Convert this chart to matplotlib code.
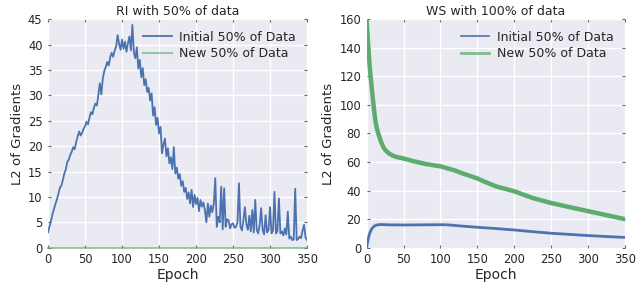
import matplotlib
matplotlib.use("Agg")
import matplotlib.pyplot as plt

# ---- RI panel: L2 of gradients, every 2nd epoch ----
ri_epochs = list(range(0, 351, 2))
ri_initial = [
    3.0, 4.2, 5.3, 6.6, 7.6, 8.6, 9.5, 10.6, 11.8, 12.2,
    13.3, 14.6, 15.4, 16.9, 17.3, 18.3, 18.9, 19.8, 19.4, 20.8,
    21.9, 22.9, 22.1, 22.6, 23.4, 23.9, 24.8, 24.3, 25.6, 26.7,
    26.3, 27.6, 28.4, 28.0, 30.1, 32.4, 30.2, 33.3, 34.8, 35.6,
    36.6, 35.9, 37.5, 38.4, 37.6, 38.8, 39.6, 41.9, 40.2, 39.0,
    41.0, 39.2, 40.6, 38.6, 40.3, 41.6, 38.9, 43.9, 38.5, 37.3,
    39.5, 35.3, 37.0, 33.6, 35.4, 32.0, 33.2, 30.7, 31.5, 29.0,
    30.4, 26.0, 27.7, 24.2, 25.6, 22.5, 23.8, 18.6, 20.4, 21.5,
    18.0, 19.6, 16.6, 17.8, 15.5, 19.8, 14.6, 15.8, 13.6, 14.5,
    12.2, 13.1, 11.0, 11.8, 9.6, 10.9, 8.7, 11.4, 8.0, 10.4,
    8.6, 9.8, 7.2, 9.4, 8.1, 8.9, 7.4, 5.0, 8.7, 6.1,
    8.3, 7.0, 8.7, 13.7, 4.1, 6.1, 5.0, 12.0, 3.6, 11.7,
    4.1, 5.6, 5.4, 3.8, 4.6, 4.8, 3.9, 4.1, 5.0, 12.7,
    4.1, 3.4, 5.4, 8.0, 4.6, 3.5, 6.3, 3.2, 7.4, 3.0,
    9.4, 3.5, 2.8, 4.5, 7.8, 3.5, 2.6, 6.4, 3.0, 3.5,
    8.0, 2.8, 3.4, 11.0, 2.8, 3.3, 9.7, 2.8, 3.2, 2.4,
    3.8, 2.6, 7.1, 1.8, 2.2, 1.5, 1.6, 11.6, 1.5, 1.7,
    2.2, 1.9, 3.4, 4.5, 2.0, 1.5,
]
ri_new = [0.0] * len(ri_epochs)

# ---- WS panel ----
ws_init_epochs = [0, 1, 2, 3, 4, 6, 8, 10, 13, 16,
                  20, 30, 50, 75, 100, 110, 125, 150, 175, 200,
                  225, 250, 275, 300, 325, 350]
ws_initial = [0.3, 3.5, 6.0, 8.2, 10.0, 12.5, 14.0, 15.0, 15.8, 16.1,
              16.2, 16.0, 15.9, 16.0, 16.1, 16.0, 15.3, 14.3, 13.4, 12.4,
              11.2, 10.1, 9.3, 8.5, 7.8, 7.2]

ws_new_epochs = [0, 1, 2, 3, 4, 6, 8, 10, 12, 14,
                 16, 18, 20, 22, 25, 30, 35, 40, 50, 60,
                 70, 80, 90, 100, 110, 120, 130, 140, 150, 160,
                 175, 200, 225, 250, 275, 300, 325, 350]
ws_new = [158, 150, 142, 134, 127, 116, 106, 96, 88, 83,
          79.5, 76.3, 73.5, 71, 68.5, 66, 64.6, 63.6, 62.5, 61,
          59.8, 58.6, 57.8, 57.0, 55.5, 54, 52, 50.3, 48.5, 46.2,
          43, 39.5, 34.8, 31.3, 28.4, 25.6, 22.8, 20]

blue = "#4C72B0"
green = "#55A868"

plt.rcParams["font.family"] = "DejaVu Sans"
plt.rcParams["text.color"] = "#262626"
plt.rcParams["axes.labelcolor"] = "#262626"
plt.rcParams["xtick.color"] = "#262626"
plt.rcParams["ytick.color"] = "#262626"

fig = plt.figure(figsize=(6.37, 2.86), dpi=100)
ax1 = fig.add_axes([0.0754, 0.134, 0.4066, 0.7985])
ax2 = fig.add_axes([0.5757, 0.134, 0.4053, 0.7985])


def style(ax, ymax, ystep):
    ax.set_facecolor("#EAEAF2")
    for s in ax.spines.values():
        s.set_visible(False)
    ax.grid(True, color="white", linewidth=1.0)
    ax.set_axisbelow(True)
    ax.set_xlim(0, 350)
    ax.set_ylim(0, ymax)
    ax.set_xticks(range(0, 351, 50))
    ax.set_yticks(range(0, ymax + 1, ystep))
    ax.tick_params(direction="in", length=2.5, width=0.8, color="#666666",
                   top=True, right=True, labelsize=8.3, pad=4)
    ax.set_xlabel("Epoch", fontsize=10, labelpad=1)
    ax.set_ylabel("L2 of Gradients", fontsize=9.5, labelpad=3)


style(ax1, 45, 5)
ax1.plot(ri_epochs, ri_initial, color=blue, linewidth=1.3, label="Initial 50% of Data")
ax1.plot(ri_epochs, ri_new, color=green, linewidth=1.4, alpha=0.6,
         clip_on=False, label="New 50% of Data")
ax1.set_title("RI with 50% of data", fontsize=9, pad=3)
ax1.legend(loc="upper right", frameon=False, fontsize=9, handlelength=2.3,
           handletextpad=0.6, labelspacing=0.3)

style(ax2, 160, 20)
ax2.plot(ws_init_epochs, ws_initial, color=blue, linewidth=2.0, label="Initial 50% of Data")
ax2.plot(ws_new_epochs, ws_new, color=green, linewidth=3.2, alpha=0.95, label="New 50% of Data")
ax2.set_title("WS with 100% of data", fontsize=9, pad=3)
leg = ax2.legend(loc="upper right", frameon=False, fontsize=9, handlelength=2.3,
                 handletextpad=0.6, labelspacing=0.3)
leg.get_lines()[0].set_linewidth(1.2)
leg.get_lines()[1].set_linewidth(2.0)
leg.get_lines()[1].set_alpha(0.7)

fig.savefig("out.png", dpi=100)
